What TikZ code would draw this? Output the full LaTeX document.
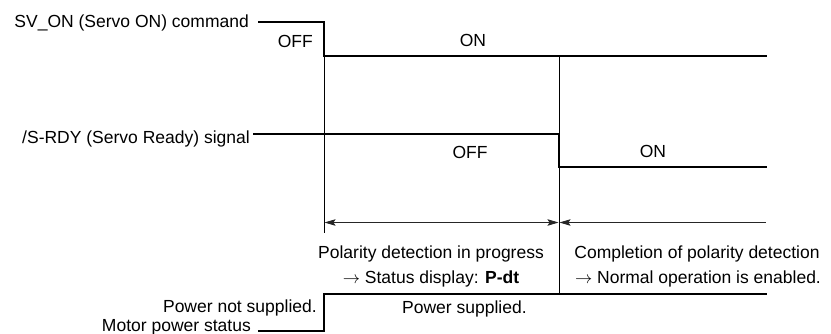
\documentclass[tikz,border=0pt]{standalone}
\usepackage{fontspec}
\setmainfont{Liberation Sans}
\usetikzlibrary{arrows.meta}
\begin{document}
\begin{tikzpicture}[x=1bp,y=-1bp,
  lbl/.style={inner sep=0pt, font=\fontsize{17.5bp}{21bp}\selectfont},
  sig/.style={line width=1.4bp, line join=miter},
  guide/.style={line width=0.7bp},
  dimline/.style={line width=0.8bp, draw=black!85, >={Stealth[length=11bp,width=6.5bp,inset=2bp]}}]
\useasboundingbox (0,0) rectangle (831,333);
% labels of signals
\node[lbl, anchor=base east] (svon) at (249,27) {SV\_ON (Servo ON) command};
\node[lbl, anchor=base east] (srdy) at (250,143) {/S-RDY (Servo Ready) signal};
\node[lbl, anchor=base east] (pns) at (317,312) {Power not supplied.};
\node[lbl, anchor=base east] (mps) at (251,331) {Motor power status};
% state labels
\node[lbl, anchor=base east] (off1) at (313,47) {OFF};
\node[lbl, anchor=base] (on1) at (473,46) {ON};
\node[lbl, anchor=base] (off2) at (470,158) {OFF};
\node[lbl, anchor=base] (on2) at (653,157) {ON};
\node[lbl, anchor=base west] (ps) at (402,313) {Power supplied.};
\node[lbl, anchor=base] (pol1) at (431,258) {Polarity detection in progress};
\node[lbl, anchor=base] (pol2) at (431,283) {$\rightarrow$ Status display: \textbf{P-dt}};
\node[lbl, anchor=base] (cmp1) at (697,258) {Completion of polarity detection};
\node[lbl, anchor=base] (cmp2) at (698,283) {$\rightarrow$ Normal operation is enabled.};
% key points
\coordinate (a0) at (258,22);
\coordinate (a1) at (324,22);
\coordinate (a2) at (324,56);
\coordinate (a3) at (767,56);
\coordinate (b0) at (253,134);
\coordinate (b1) at (559,134);
\coordinate (b2) at (559,167);
\coordinate (b3) at (767,167);
\coordinate (c0) at (258,331);
\coordinate (c1) at (324,331);
\coordinate (c2) at (324,294);
\coordinate (c3) at (767,294);
\coordinate (g1) at (324,233);
\coordinate (g2top) at (559,56);
\coordinate (g2) at (559,294);
\coordinate (d0) at (324.5,222.5);
\coordinate (d1) at (558.5,222.5);
\coordinate (d2) at (559.5,222.5);
\coordinate (d3) at (766,222.5);
% guides
\draw[guide] (a2) -- (g1);
\draw[guide] (g2top) -- (g2);
% dimension arrows
\draw[dimline, <->] (d0) -- (d1);
\draw[dimline, <-] (d2) -- (d3);
% signals
\draw[sig] (a0) -- (a1) -- (a2) -- (a3);
\draw[sig] (b0) -- (b1) -- (b2) -- (b3);
\draw[sig] (c0) -- (c1) -- (c2) -- (c3);
\end{tikzpicture}
\end{document}
